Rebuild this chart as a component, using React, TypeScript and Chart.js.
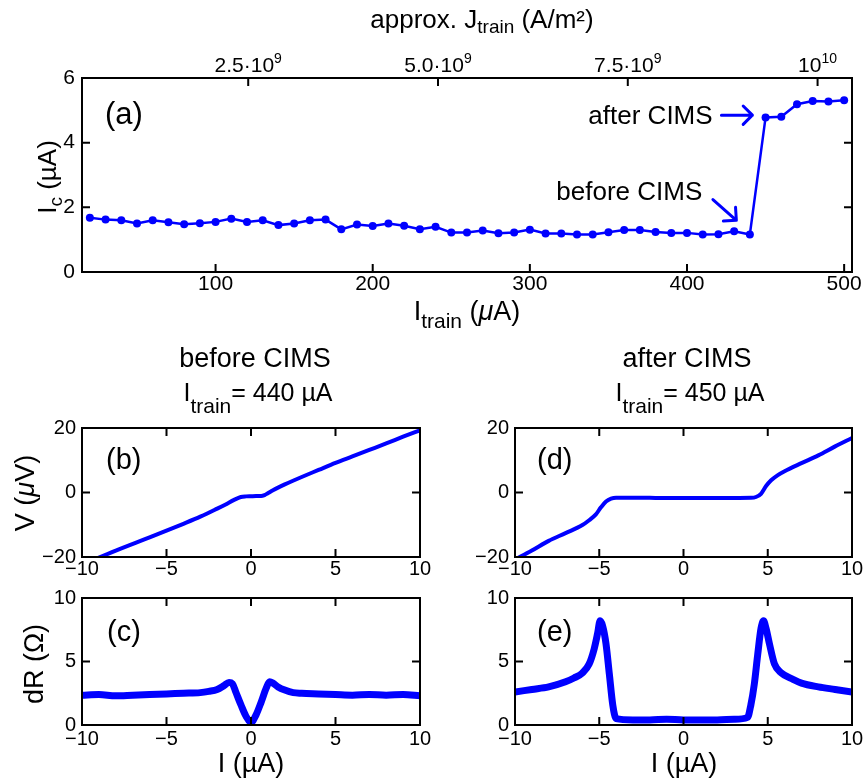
import React, { useEffect, useRef } from 'react';
import { Chart, registerables } from 'chart.js';

Chart.register(...registerables);

const FONT = '"Liberation Sans", Arial, Helvetica, sans-serif';
const BLUE = '#0000ff';

// ---------- Panel (a): critical current vs training current ----------
const trainCurrent = [20, 30, 40, 50, 60, 70, 80, 90, 100, 110, 120, 130, 140, 150, 160, 170, 180, 190, 200, 210, 220, 230, 240, 250, 260, 270, 280, 290, 300, 310, 320, 330, 340, 350, 360, 370, 380, 390, 400, 410, 420, 430, 440, 450, 460, 470, 480, 490, 500];
const criticalCurrent = [1.68, 1.62, 1.60, 1.50, 1.60, 1.54, 1.48, 1.51, 1.55, 1.65, 1.55, 1.60, 1.45, 1.50, 1.60, 1.62, 1.32, 1.47, 1.42, 1.50, 1.43, 1.32, 1.40, 1.22, 1.22, 1.28, 1.20, 1.22, 1.31, 1.19, 1.19, 1.16, 1.16, 1.23, 1.30, 1.30, 1.24, 1.21, 1.21, 1.16, 1.17, 1.26, 1.16, 4.78, 4.80, 5.19, 5.29, 5.27, 5.31];
const aBottomTicks = [100, 200, 300, 400, 500];
const aLeftTicks = [0, 2, 4, 6];
const aTopTicks = [2.5e9, 5.0e9, 7.5e9, 1e10];
const aTopTickBase = ['2.5·10', '5.0·10', '7.5·10', '10'];
const aTopTickExp = ['9', '9', '9', '10'];
const jPerMicroAmp = 2.07e7; // approx. A/m² per µA of training current

// ---------- Panels (b)-(e): I-V and dR curves ----------
const ivTicksX = [-10, -5, 0, 5, 10];
const vTicks = [-20, 0, 20];
const dRTicks = [0, 5, 10];

const beforeI_V = [-10, -8, -6, -5, -4, -3, -2, -1.5, -1, -0.6, -0.3, 0, 0.3, 0.6, 0.8, 1.0, 1.3, 1.6, 2, 3, 4, 5, 6, 7, 8, 9, 10];
const beforeV = [-22.4, -18.0, -13.9, -11.8, -9.7, -7.5, -5.0, -3.7, -2.3, -1.4, -1.2, -1.15, -1.1, -1.1, -0.8, -0.2, 0.7, 1.5, 2.5, 4.8, 7.0, 9.2, 11.2, 13.2, 15.2, 17.3, 19.3];

const beforeI_dR = [-10, -9, -8, -7, -6, -5, -4, -3, -2.5, -2, -1.6, -1.3, -1.1, -0.9, -0.6, -0.3, 0, 0.3, 0.6, 0.9, 1.1, 1.3, 1.6, 2, 2.5, 3, 4, 5, 6, 7, 8, 9, 10];
const beforeDR = [2.35, 2.4, 2.3, 2.35, 2.4, 2.45, 2.5, 2.55, 2.65, 2.8, 3.1, 3.35, 3.25, 2.6, 1.6, 0.7, 0.2, 0.8, 1.8, 2.9, 3.4, 3.3, 3.0, 2.75, 2.55, 2.5, 2.45, 2.4, 2.35, 2.4, 2.35, 2.4, 2.3];

const afterI_V = [-10, -9, -8, -7, -6, -5.6, -5.2, -4.9, -4.6, -4.3, -4.0, -3, -2, -1, 0, 1, 2, 3, 4.0, 4.3, 4.6, 4.9, 5.2, 5.6, 6, 7, 8, 9, 10];
const afterV = [-20.8, -18.0, -15.0, -12.6, -10.1, -8.6, -6.8, -4.6, -2.8, -1.9, -1.6, -1.6, -1.65, -1.7, -1.7, -1.7, -1.7, -1.7, -1.65, -1.4, -0.4, 2.0, 3.8, 5.4, 6.6, 9.1, 11.5, 14.3, 16.9];

const afterI_dR = [-10, -9, -8, -7, -6.5, -6, -5.6, -5.3, -5.1, -4.95, -4.8, -4.6, -4.4, -4.2, -4.0, -3, -2, -1, 0, 1, 2, 3, 3.8, 4.0, 4.2, 4.4, 4.6, 4.75, 4.9, 5.1, 5.4, 5.8, 6.5, 7, 8, 9, 10];
const afterDR = [2.6, 2.8, 3.0, 3.4, 3.7, 4.1, 4.8, 6.0, 7.2, 8.2, 7.8, 6.4, 4.0, 1.6, 0.5, 0.4, 0.4, 0.45, 0.4, 0.4, 0.4, 0.45, 0.6, 1.6, 3.2, 5.5, 7.6, 8.2, 7.6, 6.4, 4.8, 4.1, 3.6, 3.3, 3.0, 2.8, 2.6];

// ---------- drawing helpers ----------
type Seg = { t: string; s: number; dy?: number; it?: boolean };
type Txt = { segs: Seg[]; x: number; y: number; align?: 'left' | 'center' | 'right'; rot?: boolean };

function drawRich(ctx: CanvasRenderingContext2D, txt: Txt) {
  ctx.save();
  ctx.translate(txt.x, txt.y);
  if (txt.rot) ctx.rotate(-Math.PI / 2);
  const fonts = txt.segs.map((sg) => `${sg.it ? 'italic ' : ''}${sg.s}px ${FONT}`);
  const ws: number[] = [];
  let w = 0;
  txt.segs.forEach((sg, i) => {
    ctx.font = fonts[i];
    const m = ctx.measureText(sg.t).width;
    ws.push(m);
    w += m;
  });
  let cx = txt.align === 'left' ? 0 : txt.align === 'right' ? -w : -w / 2;
  ctx.fillStyle = '#000';
  ctx.textBaseline = 'alphabetic';
  ctx.textAlign = 'left';
  txt.segs.forEach((sg, i) => {
    ctx.font = fonts[i];
    ctx.fillText(sg.t, cx, sg.dy || 0);
    cx += ws[i];
  });
  ctx.restore();
}

function drawArrow(ctx: CanvasRenderingContext2D, x0: number, y0: number, x1: number, y1: number) {
  const ang = Math.atan2(y1 - y0, x1 - x0);
  const h = 13;
  ctx.save();
  ctx.strokeStyle = BLUE;
  ctx.lineWidth = 3;
  ctx.lineCap = 'round';
  ctx.lineJoin = 'round';
  ctx.beginPath();
  ctx.moveTo(x0, y0);
  ctx.lineTo(x1, y1);
  ctx.moveTo(x1 - h * Math.cos(ang - Math.PI / 4), y1 - h * Math.sin(ang - Math.PI / 4));
  ctx.lineTo(x1, y1);
  ctx.lineTo(x1 - h * Math.cos(ang + Math.PI / 4), y1 - h * Math.sin(ang + Math.PI / 4));
  ctx.stroke();
  ctx.restore();
}

type DecorSpec = {
  xTicks: number[];
  topTicks: number[];
  topScaleId: string;
  yTicks: number[];
  texts: Txt[];
  extra?: (chart: any) => void;
};

function decorPlugin(spec: DecorSpec) {
  return {
    id: 'decor',
    afterDraw(chart: any) {
      const { ctx, chartArea: a, scales } = chart;
      ctx.save();
      ctx.strokeStyle = '#000';
      ctx.lineWidth = 2;
      ctx.strokeRect(a.left, a.top, a.right - a.left, a.bottom - a.top);
      const L = 8;
      ctx.beginPath();
      const xs = scales.x;
      const ys = scales.y;
      const ts = scales[spec.topScaleId];
      for (const v of spec.xTicks) {
        const p = xs.getPixelForValue(v);
        ctx.moveTo(p, a.bottom);
        ctx.lineTo(p, a.bottom - L);
      }
      for (const v of spec.topTicks) {
        const p = ts.getPixelForValue(v);
        ctx.moveTo(p, a.top);
        ctx.lineTo(p, a.top + L);
      }
      for (const v of spec.yTicks) {
        const p = ys.getPixelForValue(v);
        ctx.moveTo(a.left, p);
        ctx.lineTo(a.left + L, p);
        ctx.moveTo(a.right, p);
        ctx.lineTo(a.right - L, p);
      }
      ctx.stroke();
      ctx.restore();
      for (const t of spec.texts) drawRich(ctx, t);
      if (spec.extra) spec.extra(chart);
    },
  };
}

const minus = (v: any) => String(v).replace('-', '−');
const fixTicks = (vals: number[]) => (s: any) => {
  s.ticks = vals.map((v) => ({ value: v }));
};

// annotation anchors in data coordinates of panel (a)
const afterCimsText = { x: 416.3, y: 4.57 };
const afterCimsArrow = { x0: 421.9, y0: 4.85, x1: 441.6, y1: 4.85 };
const beforeCimsText = { x: 409.7, y: 2.22 };
const beforeCimsArrow = { x0: 416.5, y0: 2.24, x1: 431.4, y1: 1.6 };

function configA() {
  const data = trainCurrent.map((x, i) => ({ x, y: criticalCurrent[i] }));
  const texts: Txt[] = [
    { segs: [{ t: '(a)', s: 31 }], x: 105, y: 123.5, align: 'left' },
    { segs: [{ t: 'approx. J', s: 26 }, { t: 'train', s: 19, dy: 5 }, { t: ' (A/m²)', s: 26 }], x: 482, y: 28 },
    { segs: [{ t: 'I', s: 27 }, { t: 'train', s: 21, dy: 8 }, { t: ' (', s: 27 }, { t: 'μ', s: 27, it: true }, { t: 'A)', s: 27 }], x: 467, y: 320 },
    { segs: [{ t: 'I', s: 26 }, { t: 'c', s: 19, dy: 6 }, { t: ' (µA)', s: 26 }], x: 56, y: 177, rot: true },
  ];
  return {
    type: 'line',
    data: {
      datasets: [
        {
          data,
          borderColor: BLUE,
          backgroundColor: BLUE,
          borderWidth: 2.5,
          pointRadius: 4,
          pointBorderWidth: 0,
          pointBackgroundColor: BLUE,
          tension: 0,
        },
      ],
    },
    options: {
      animation: false,
      responsive: false,
      devicePixelRatio: 1,
      layout: { padding: { left: 0, right: 48, top: 0, bottom: 0 } },
      plugins: { legend: { display: false }, tooltip: { enabled: false } },
      scales: {
        x: {
          type: 'linear',
          position: 'bottom',
          min: 15,
          max: 505,
          afterBuildTicks: fixTicks(aBottomTicks),
          afterFit: (s: any) => { s.height = 68; },
          grid: { display: false, drawTicks: false },
          border: { display: false },
          ticks: { color: '#000', padding: 0, font: { family: FONT, size: 21 }, maxRotation: 0 },
        },
        x2: {
          type: 'linear',
          position: 'top',
          min: 15 * jPerMicroAmp,
          max: 505 * jPerMicroAmp,
          afterBuildTicks: fixTicks(aTopTicks),
          afterFit: (s: any) => { s.height = 78; },
          grid: { display: false, drawTicks: false },
          border: { display: false },
          ticks: { display: false },
        },
        y: {
          type: 'linear',
          min: 0,
          max: 6,
          afterBuildTicks: fixTicks(aLeftTicks),
          afterFit: (s: any) => { s.width = 82; },
          grid: { display: false, drawTicks: false },
          border: { display: false },
          ticks: { color: '#000', padding: 7, font: { family: FONT, size: 21 } },
        },
      },
    },
    plugins: [
      decorPlugin({
        xTicks: aBottomTicks,
        topTicks: aTopTicks,
        topScaleId: 'x2',
        yTicks: aLeftTicks,
        texts,
        extra: (chart: any) => {
          const { ctx } = chart;
          const xs = chart.scales.x;
          const ys = chart.scales.y;
          const ts = chart.scales.x2;
          aTopTicks.forEach((v, i) => {
            drawRich(ctx, {
              segs: [{ t: aTopTickBase[i], s: 21 }, { t: aTopTickExp[i], s: 14, dy: -9 }],
              x: ts.getPixelForValue(v),
              y: 72,
            });
          });
          drawRich(ctx, { segs: [{ t: 'after CIMS', s: 26 }], x: xs.getPixelForValue(afterCimsText.x), y: ys.getPixelForValue(afterCimsText.y), align: 'right' });
          drawRich(ctx, { segs: [{ t: 'before CIMS', s: 26 }], x: xs.getPixelForValue(beforeCimsText.x), y: ys.getPixelForValue(beforeCimsText.y), align: 'right' });
          drawArrow(ctx, xs.getPixelForValue(afterCimsArrow.x0), ys.getPixelForValue(afterCimsArrow.y0), xs.getPixelForValue(afterCimsArrow.x1), ys.getPixelForValue(afterCimsArrow.y1));
          drawArrow(ctx, xs.getPixelForValue(beforeCimsArrow.x0), ys.getPixelForValue(beforeCimsArrow.y0), xs.getPixelForValue(beforeCimsArrow.x1), ys.getPixelForValue(beforeCimsArrow.y1));
        },
      }),
    ],
  };
}

type IVOpts = {
  xs: number[];
  ys: number[];
  yMin: number;
  yMax: number;
  yTicks: number[];
  lineWidth: number;
  padTop: number;
  padRight: number;
  xHeight: number;
  xPad: number;
  texts: Txt[];
};

function configIV(o: IVOpts) {
  const data = o.xs.map((x, i) => ({ x, y: o.ys[i] }));
  return {
    type: 'line',
    data: {
      datasets: [
        {
          data,
          borderColor: BLUE,
          borderWidth: o.lineWidth,
          pointRadius: 0,
          cubicInterpolationMode: 'monotone',
          borderCapStyle: 'round',
          borderJoinStyle: 'round',
        },
      ],
    },
    options: {
      animation: false,
      responsive: false,
      devicePixelRatio: 1,
      layout: { padding: { left: 0, right: o.padRight, top: o.padTop, bottom: 0 } },
      plugins: { legend: { display: false }, tooltip: { enabled: false } },
      scales: {
        x: {
          type: 'linear',
          min: -10,
          max: 10,
          afterBuildTicks: fixTicks(ivTicksX),
          afterFit: (s: any) => { s.height = o.xHeight; },
          grid: { display: false, drawTicks: false },
          border: { display: false },
          ticks: { color: '#000', padding: o.xPad, font: { family: FONT, size: 20 }, maxRotation: 0, callback: minus },
        },
        y: {
          type: 'linear',
          min: o.yMin,
          max: o.yMax,
          afterBuildTicks: fixTicks(o.yTicks),
          afterFit: (s: any) => { s.width = 82; },
          grid: { display: false, drawTicks: false },
          border: { display: false },
          ticks: { color: '#000', padding: 6, font: { family: FONT, size: 20 }, callback: minus },
        },
      },
    },
    plugins: [decorPlugin({ xTicks: ivTicksX, topTicks: ivTicksX, topScaleId: 'x', yTicks: o.yTicks, texts: o.texts })],
  };
}

function Panel({ left, top, width, height, build }: { left: number; top: number; width: number; height: number; build: () => any }) {
  const ref = useRef<HTMLCanvasElement>(null);
  useEffect(() => {
    const chart = new Chart(ref.current as HTMLCanvasElement, build());
    return () => chart.destroy();
  }, []);
  return <canvas ref={ref} width={width} height={height} style={{ position: 'absolute', left, top, width, height }} />;
}

export default function App() {
  const titleB: Txt[] = [
    { segs: [{ t: 'before CIMS', s: 27 }], x: 255, y: 37 },
    { segs: [{ t: 'I', s: 25 }, { t: 'train', s: 21, dy: 12 }, { t: '= 440 µA', s: 25 }], x: 258, y: 71 },
    { segs: [{ t: 'V (', s: 27 }, { t: 'μ', s: 27, it: true }, { t: 'V)', s: 27 }], x: 34, y: 163, rot: true },
    { segs: [{ t: '(b)', s: 29 }], x: 106, y: 139, align: 'left' },
  ];
  const titleC: Txt[] = [
    { segs: [{ t: 'dR (Ω)', s: 27 }], x: 43, y: 84, rot: true },
    { segs: [{ t: '(c)', s: 29 }], x: 107, y: 61, align: 'left' },
    { segs: [{ t: 'I (µA)', s: 27 }], x: 251, y: 192 },
  ];
  const titleD: Txt[] = [
    { segs: [{ t: 'after CIMS', s: 27 }], x: 254, y: 37 },
    { segs: [{ t: 'I', s: 25 }, { t: 'train', s: 21, dy: 12 }, { t: '= 450 µA', s: 25 }], x: 257, y: 71 },
    { segs: [{ t: '(d)', s: 29 }], x: 104, y: 139, align: 'left' },
  ];
  const titleE: Txt[] = [
    { segs: [{ t: '(e)', s: 29 }], x: 104, y: 61, align: 'left' },
    { segs: [{ t: 'I (µA)', s: 27 }], x: 251, y: 192 },
  ];
  return (
    <div style={{ position: 'absolute', left: 0, top: 0, width: 864, height: 782, overflow: 'hidden', background: '#fff' }}>
      <Panel left={0} top={0} width={900} height={340} build={configA} />
      <Panel
        left={0}
        top={330}
        width={440}
        height={250}
        build={() => configIV({ xs: beforeI_V, ys: beforeV, yMin: -20, yMax: 20, yTicks: vTicks, lineWidth: 4, padTop: 98, padRight: 20, xHeight: 23, xPad: 0.5, texts: titleB })}
      />
      <Panel
        left={0}
        top={580}
        width={440}
        height={202}
        build={() => configIV({ xs: beforeI_dR, ys: beforeDR, yMin: 0, yMax: 10, yTicks: dRTicks, lineWidth: 7, padTop: 18, padRight: 20, xHeight: 57, xPad: 2, texts: titleC })}
      />
      <Panel
        left={433}
        top={330}
        width={440}
        height={250}
        build={() => configIV({ xs: afterI_V, ys: afterV, yMin: -20, yMax: 20, yTicks: vTicks, lineWidth: 4, padTop: 98, padRight: 21, xHeight: 23, xPad: 0.5, texts: titleD })}
      />
      <Panel
        left={433}
        top={580}
        width={440}
        height={202}
        build={() => configIV({ xs: afterI_dR, ys: afterDR, yMin: 0, yMax: 10, yTicks: dRTicks, lineWidth: 7, padTop: 18, padRight: 21, xHeight: 57, xPad: 2, texts: titleE })}
      />
    </div>
  );
}
